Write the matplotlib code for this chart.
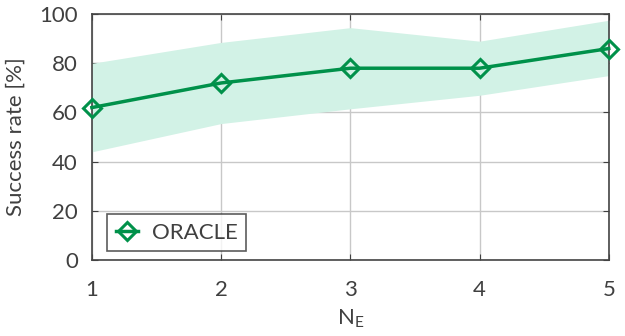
import numpy as np
import matplotlib.pyplot as plt

# data
n_e = [1, 2, 3, 4, 5]
success = [62, 72, 78, 78, 86]
band_upper = [80, 88.5, 94.5, 89, 97.5]
band_lower = [44, 55.5, 61.5, 67, 75]

plt.rcParams['font.family'] = ['Lato', 'DejaVu Sans']
txt = '#404040'

fig = plt.figure(figsize=(6.25, 3.36), dpi=100)
ax = fig.add_axes([0.147, 0.226, 0.827, 0.732])

ax.fill_between(n_e, band_lower, band_upper, color='#d2f2e6', linewidth=0, zorder=1)
ax.plot(n_e, success, color='#00914a', lw=2.5, marker='D', ms=9,
        mfc='none', mec='#00914a', mew=2.2, label='ORACLE', zorder=3, clip_on=False)

ax.set_xlim(1, 5)
ax.set_ylim(0, 100)
ax.set_xticks(n_e)
ax.set_yticks(np.arange(0, 101, 20))
ax.grid(True, color='#c8c8c8', lw=1, zorder=0)
ax.set_axisbelow(True)
ax.tick_params(direction='in', top=True, right=True, labelsize=16, colors=txt, length=4)
ax.tick_params(axis='x', pad=14)
ax.tick_params(axis='y', pad=10)
for s in ax.spines.values():
    s.set_color('#444444')
    s.set_linewidth(1.2)

ax.set_ylabel('Success rate [%]', fontsize=16, color=txt, labelpad=10)
ax.set_xlabel('N$_\\mathregular{E}$', fontsize=16, color=txt, labelpad=6)

leg = ax.legend(loc='lower left', bbox_to_anchor=(0.03, 0.035), fontsize=16,
                frameon=True, fancybox=False, edgecolor='#333333',
                handlelength=1.0, handletextpad=0.6, borderpad=0.4, borderaxespad=0)
leg.get_frame().set_linewidth(1.2)
for t in leg.get_texts():
    t.set_color(txt)

fig.savefig('out.png', dpi=100)
